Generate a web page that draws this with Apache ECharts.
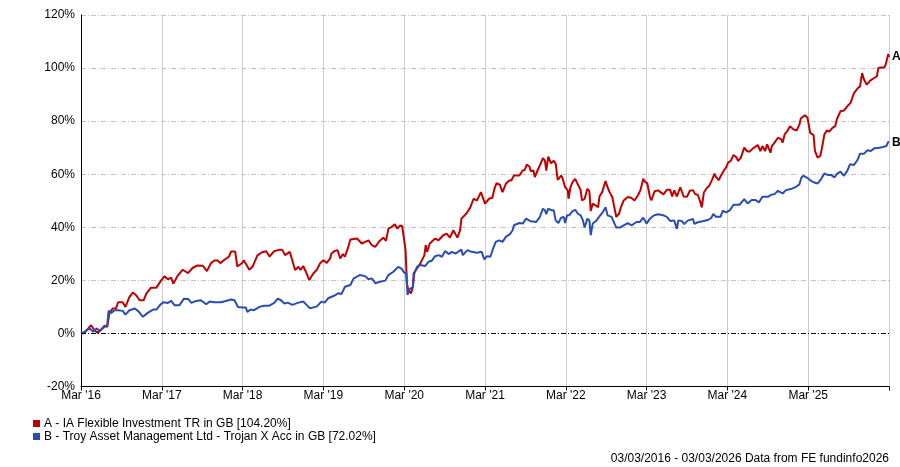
<!DOCTYPE html>
<html>
<head>
<meta charset="utf-8">
<script src="https://cdn.jsdelivr.net/npm/echarts@6/dist/echarts.min.js"></script>
<style>
html,body{margin:0;padding:0;background:#fff;}
#chart{width:900px;height:467px;}
</style>
</head>
<body>
<div id="chart"></div>
<script>
// Months since Mar 2016, cumulative return (%)
const monthsA = [0,0.5,1.5,2,2.5,3,3.5,3.9,4.2,4.7,5.2,5.5,6.2,6.6,7.2,7.7,8.2,8.7,9.3,9.7,10.4,11.2,11.9,12.4,12.9,13.4,13.7,14.4,15.1,15.9,16.6,17.3,18.1,18.7,19.3,19.8,20.3,20.7,21.3,22,22.3,22.9,23.2,23.8,24.2,25,25.5,26.2,26.9,27.5,28,28.7,29.4,29.9,30.3,31,31.3,31.8,32.3,32.6,33,33.4,33.9,34.5,35,35.5,36,36.5,37,37.2,37.7,38.1,38.5,38.9,39.2,39.7,40,41,41.7,42.2,42.7,43.2,43.7,44.3,44.9,45.3,45.65,46.1,46.6,47,47.4,47.7,48,48.2,48.4,48.6,49,49.3,49.4,49.9,50.4,51,51.2,51.4,51.8,52.6,53.1,53.8,54.3,54.8,55.3,55.9,56.3,56.5,57.3,57.8,58.3,58.8,59.4,60,60.6,61.1,61.4,61.7,62.2,62.6,63.1,63.6,63.9,64.3,65.1,65.6,65.9,66.2,66.6,66.8,67.2,67.4,67.8,68.2,68.6,68.9,69.1,69.4,69.8,70.2,70.5,70.8,71.3,71.5,71.9,72.3,72.4,72.7,73,73.4,73.8,74.2,74.4,74.8,75.2,75.5,75.7,76,76.4,76.8,77,77.4,77.9,78.2,78.5,78.9,79.2,79.5,79.9,80.2,80.6,81.2,81.7,82.2,82.7,83.1,83.5,83.8,84.1,84.5,84.7,85.2,85.7,86.5,87,87.5,87.8,88.1,88.5,89,89.5,90,90.4,90.9,91.2,91.6,92,92.2,92.5,93,93.3,93.7,94.1,94.3,94.7,95.1,95.5,95.8,96.1,96.5,96.9,97.3,97.6,98,98.5,98.9,99.3,99.8,100.5,100.9,101.2,101.6,101.9,102.4,102.6,103,103.5,104,104.2,104.5,104.9,105.3,105.8,106.3,106.7,106.9,107.5,107.9,108.3,108.8,109,109.4,109.8,110.1,110.4,110.8,111.1,111.6,112,112.3,112.8,113.3,113.8,114.3,114.8,115.4,115.7,116,116.3,116.7,117.2,117.8,118.2,118.4,118.8,119.3,119.5,119.8,119.9,120];
const valuesA = [0,0.2,3.1,1.2,0.2,1.5,2.9,2.5,7.5,9.4,9.4,11.75,11.75,10,13.75,15.4,14.4,12.5,12.5,15,17.25,17.25,20,21.5,20.4,21,18.75,21.9,24,22.75,24.75,25.6,25.5,23.5,26.5,27.5,27.5,26.5,27.75,29,30.9,30.9,25.25,26.25,27.5,24,25.25,29.4,30.6,31,29,31,31.5,31.5,29.5,30.75,28.25,23.9,25.1,23.9,25.4,23.25,20.1,22.6,23.9,26.4,27.6,26.6,28.25,30.1,31.1,31.4,28.25,29.9,28.9,32.6,35.4,35.75,33.9,34.5,35.1,33.25,32.6,34.75,36.1,34.9,39.5,40.1,41.1,39.5,40.75,40.4,35.1,31.4,18.9,16.4,15.1,17.6,22.6,24.5,26.4,29.5,33.25,30.75,33.9,35.75,35.1,37,37.6,36.1,38.9,36.1,38.9,43.25,45.4,47.4,50.75,50.1,53.25,48.9,50.75,51.1,54.5,56.6,56.1,53.25,56.4,57.6,57.6,59.5,59.5,61.4,61.6,63.6,62.9,61.1,61.4,58.9,61.4,63.6,66.1,65.1,61.4,66.6,64.1,65.1,63.9,57.9,59.5,58.6,55.1,53.9,50.75,55.1,57,58.25,56.1,54.1,50.1,50.75,54.5,53.6,46.1,48.9,48.25,47.6,51.6,53.25,57.4,55.1,53.25,51.4,47.6,43.9,45.1,47.6,50.1,51.4,51.1,50.1,52,54.1,58.25,57,56.6,51.4,50.1,53.6,53.9,52.4,54.1,54.1,51.6,53.9,51.6,55.1,51.6,51.5,53.75,54,52.5,52.25,49.4,47.5,53.1,55,55.6,57.75,60.25,59,57.75,59.75,61.5,62.5,64.4,65,67.25,66.5,65,66.25,70,68.75,68.5,69.75,71,68.75,70.6,68.75,71.25,68.1,70.6,71.9,73.75,73.1,71.9,75,76.25,78.1,76.9,76.5,78.75,81,82.25,81.25,75.6,74.75,68.75,66.25,66.9,70.6,75,76.5,76,77.5,78.1,81,83.75,84,85.6,86.9,90.6,92.5,93.1,98.1,95.6,93.75,95.25,96.25,96.9,100,100.25,100.25,101.25,104.4,105.25,104.2];

const monthsB = [0,0.5,1.3,1.8,2.3,2.8,3.5,3.9,4.1,4.5,5,5.5,6.2,6.6,7.2,8,8.5,9.2,9.9,10.7,11.2,11.7,12.2,12.9,13.4,13.9,14.6,15.3,15.9,16.4,17.1,17.8,18.6,19.1,19.8,20.8,21.5,22.3,22.8,23.3,24,24.5,24.7,25.2,25.7,26.5,27.2,27.9,28.7,29.2,29.7,30.2,30.7,31.4,32.3,33,33.5,34,35,35.7,36.2,36.7,37.5,38.2,38.7,39.2,40,40.5,41.4,42.2,42.7,43.2,43.7,44.4,45.2,45.65,46.4,47.1,47.6,48,48.3,48.5,48.7,49,49.3,49.5,49.9,50.4,51.1,51.6,52.1,52.6,53.1,53.6,54.1,54.6,55.1,55.6,56,56.5,56.7,57.4,58,58.8,59.5,59.9,60.3,60.8,61.2,61.6,62.1,62.6,63.1,63.7,64.1,64.3,65.1,65.6,66.1,66.8,67.6,68.1,68.6,68.9,69.1,69.4,69.9,70.2,70.5,70.9,71.3,71.7,71.9,72.2,72.5,73,73.4,73.8,74.2,74.5,74.8,75.2,75.5,75.7,76,76.5,77,77.5,77.9,78.2,78.8,79.2,79.5,80,80.6,81.2,81.8,82.5,83,83.5,84,84.5,85.1,85.7,86.5,87,87.5,88.1,88.5,88.7,89.2,89.6,90.1,90.9,91.1,91.6,92.3,93.1,93.6,93.9,94.3,95,95.3,95.8,96.4,96.9,97.8,98.5,99,99.6,100.2,100.7,101.2,102,102.5,103,103.5,104.2,104.7,105.4,106.2,106.7,107,107.3,107.8,108.4,108.9,109.4,109.9,110.4,110.9,111.4,111.9,112.3,112.8,113.3,113.8,114.2,114.8,115.3,115.7,116.3,116.8,117.3,117.8,118.6,119.1,119.6,119.9,120];
const valuesB = [0,0.6,1.9,0.6,1.9,1,2.5,3.1,8.5,7.75,8.75,8.75,8.5,7.1,8.75,9.4,8.4,6.25,7.75,9,9,10.6,11.75,11.5,12.25,10.6,10.6,13.1,13,11.5,12.25,12.5,11,12,11.75,11.75,12.25,12.75,12.5,10,9.75,9.75,8.1,9,8.75,10,10.4,10.4,11.5,13.1,12.5,11.25,11.6,10.75,11.6,12,10.75,9.5,10.1,12,11.6,13.25,14.1,15.1,14.9,17.6,18.25,20.75,22,21.6,20.4,20.75,18.9,19.5,19.9,22,23.25,25.1,24.4,22.9,22.6,14.5,16.4,17,17.6,22.6,25.1,25.75,25.4,27,27.4,29.1,29.5,28.9,31.1,29.9,30.75,30.1,30.75,31.6,29.5,31.4,30.75,30.4,30.75,27.9,29.1,28.9,32,34.5,35.1,34.5,36.4,37.4,38.9,40.75,41.6,41.4,43.25,42.25,42,43.6,47,46.4,44.9,47,46.4,46.4,42.6,41.6,43.6,43.9,41.6,44.5,44.5,46.1,46.6,45.1,44.5,42.9,39.9,43.25,42.6,37,41.4,42.4,44.1,45.75,47.6,44.5,43.9,41.6,39.9,39.9,40.75,41.6,40.75,42,42,43.6,41.4,43.25,44.5,44.9,44.5,43.9,42.4,42.6,39.4,42.6,42.4,41.25,42.5,43.1,41.25,41.9,42.25,42.75,43.5,45,44,44,46.25,45.6,46.5,48.5,48.5,50.6,49,50.25,50.25,49.4,51.5,51.5,52.25,52.5,53.75,52.75,54,54.4,55.25,56.25,58.75,59.4,58.75,57.5,56.9,56.5,58.1,60.25,59.75,59.75,58.75,60.25,61,59.4,61.25,63.75,63.5,65.25,67.75,67.75,69,68.75,69.75,70,70.25,70.6,72.25,72.02];

const tickLabels = ["Mar '16","Mar '17","Mar '18","Mar '19","Mar '20","Mar '21","Mar '22","Mar '23","Mar '24","Mar '25"];
const seriesNames = ["A - IA Flexible Investment TR in GB [104.20%]","B - Troy Asset Management Ltd - Trojan X Acc in GB [72.02%]"];
const endTags = ["A","B"];
const footerText = "03/03/2016 - 03/03/2026 Data from FE fundinfo2026";

const FONT = "'Liberation Sans', Arial, sans-serif";
const RED = '#C00000';
const BLUE = '#2A4DB0';

const zip = (xs, ys) => xs.map((x, i) => [x, ys[i]]);

const chart = echarts.init(document.getElementById('chart'), null, {renderer: 'canvas'});
chart.setOption({
  animation: false,
  backgroundColor: '#fff',
  textStyle: {fontFamily: FONT},
  grid: {left: 81, right: 11, top: 15, bottom: 80.5, containLabel: false},
  xAxis: {
    type: 'value', min: 0, max: 120, interval: 12,
    axisLine: {show: true, onZero: false, lineStyle: {color: '#000', width: 1}},
    axisTick: {show: true, length: 4, lineStyle: {color: '#000'}},
    axisLabel: {
      color: '#000', fontSize: 12, fontFamily: FONT, margin: 3,
      formatter: v => tickLabels[Math.round(v / 12)] || ''
    },
    splitLine: {show: true, lineStyle: {color: '#cccccc', width: 1, type: 'solid'}}
  },
  yAxis: {
    type: 'value', min: -20, max: 120, interval: 20,
    axisLine: {show: true, onZero: false, lineStyle: {color: '#000', width: 1}},
    axisTick: {show: false},
    axisLabel: {color: '#000', fontSize: 12, fontFamily: FONT, margin: 6, formatter: v => v + '%'},
    splitLine: {show: true, lineStyle: {color: '#c4c4c4', width: 1, type: [5, 2, 1, 2]}}
  },
  legend: {
    orient: 'vertical', left: 33, top: 417, padding: 0,
    itemWidth: 7, itemHeight: 7, itemGap: 0, icon: 'rect',
    textStyle: {color: '#000', fontSize: 12, fontFamily: FONT, lineHeight: 13, padding: [0, 0, 0, -1]},
    data: seriesNames,
    selectedMode: false
  },
  graphic: [{
    type: 'text', right: 11, top: 453,
    style: {text: footerText, fill: '#000', font: '12px ' + FONT}
  }],
  series: [
    {
      name: seriesNames[0], type: 'line', data: zip(monthsA, valuesA),
      showSymbol: false, symbol: 'none', color: RED,
      lineStyle: {color: RED, width: 2}, z: 3,
      endLabel: {show: true, formatter: endTags[0], color: '#000', fontWeight: 'bold', fontSize: 12, fontFamily: FONT, distance: 3},
      markLine: {
        silent: true, symbol: 'none', label: {show: false},
        lineStyle: {color: '#000', width: 1, type: [5, 2, 1, 2]},
        data: [{yAxis: 0}]
      }
    },
    {
      name: seriesNames[1], type: 'line', data: zip(monthsB, valuesB),
      showSymbol: false, symbol: 'none', color: BLUE,
      lineStyle: {color: BLUE, width: 2}, z: 4,
      endLabel: {show: true, formatter: endTags[1], color: '#000', fontWeight: 'bold', fontSize: 12, fontFamily: FONT, distance: 3}
    }
  ]
});
</script>
</body>
</html>
